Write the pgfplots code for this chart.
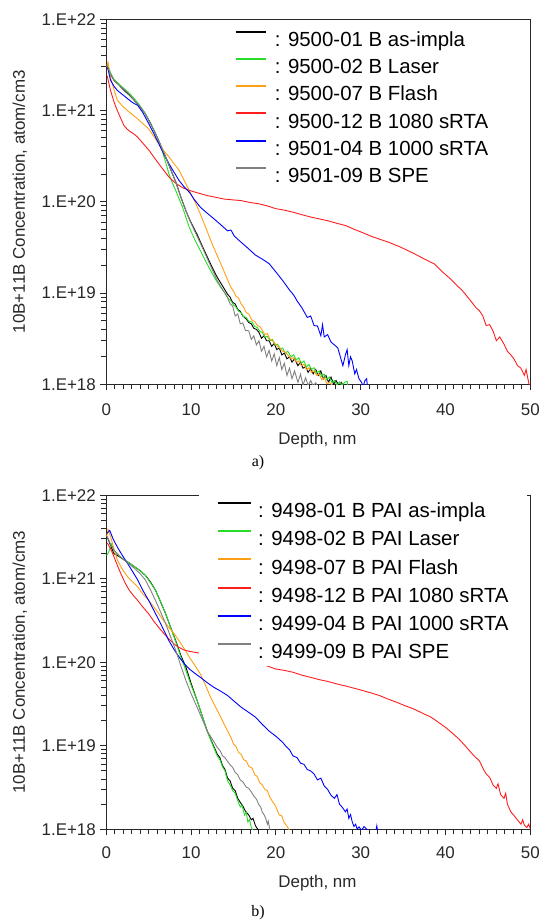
\documentclass[border=0pt]{standalone}
\usepackage{pgfplots}
\pgfplotsset{compat=1.18}
\usepackage{fontspec}
\setmainfont{Liberation Sans}
\newfontfamily\seriffont{Liberation Serif}
\definecolor{cgreen}{RGB}{40,220,40}
\definecolor{corange}{RGB}{255,160,20}
\definecolor{cred}{RGB}{255,30,30}
\definecolor{cblue}{RGB}{0,0,255}
\definecolor{cgray}{RGB}{128,128,128}
\definecolor{axcol}{RGB}{40,40,40}
\pgfplotsset{
  limga/.style={legend image code/.code={\draw[##1, line width=2bp] (0bp,7.5bp) -- (30.4bp,7.5bp);}},
  limgb/.style={legend image code/.code={\draw[##1, line width=2bp] (0bp,7.5bp) -- (33bp,7.5bp);}},
}
\begin{document}
\begin{tikzpicture}
\useasboundingbox (0,0) rectangle (541bp,921bp);
% ---------------- panel a ----------------
\begin{axis}[at={(106.3bp,536.7bp)}, anchor=south west,
  scale only axis, width=424bp, height=365bp,
  ymode=log, xmin=0, xmax=50, ymin=1e18, ymax=1e22,
  xtick={0,10,20,30,40,50}, xticklabels={0,10,20,30,40,50},
  minor x tick num=9,
  ytick={1e18,1e19,1e20,1e21,1e22},
  yticklabels={1.E+18,1.E+19,1.E+20,1.E+21,1.E+22},
  tick align=outside, xtick pos=bottom, ytick pos=left,
  major tick length=6bp, minor tick length=5bp,
  tick style={axcol, line width=1bp},
  axis line style={axcol, line width=1.4bp},
  xticklabel style={font=\fontsize{17}{18}\selectfont, text=axcol, yshift=-10bp},
  yticklabel style={font=\fontsize{17}{18}\selectfont, text=axcol, xshift=-1bp},
  xlabel={Depth, nm},
  ylabel={10B+11B Concentration, atom/cm3},
  xlabel style={font=\fontsize{17}{18}\selectfont, text=axcol, at={(axis description cs:0.498,-0.153)}, anchor=center},
  ylabel style={font=\fontsize{17}{18}\selectfont, text=axcol, at={(axis description cs:-0.204,0.5)}, anchor=center},
  legend cell align=left,
  every axis plot/.append style={line width=0.9bp},
  limga,
  legend style={at={(axis description cs:0.3026,0.9693)}, anchor=north west, draw=none, fill=none, inner sep=0pt,
    font=\fontsize{20.5}{20}\selectfont, row sep=11.5bp,
    nodes={inner sep=0pt, text height=14.5bp, text depth=0bp},
    /tikz/every odd column/.append style={column sep=7.6bp}}]
% black as-implanted
\addplot[black] coordinates {(0.1,3.0e21)(0.5,2.5e21)(0.9,2.15e21)(1.5,1.9e21)(2.1,1.66e21)(2.7,1.48e21)(3.3,1.29e21)(4.0,1.1e21)(4.6,9.2e20)(5.2,7.3e20)(5.8,5.6e20)(6.4,4.2e20)(7.0,3.1e20)(7.6,2.25e20)(8.2,1.64e20)(8.8,1.12e20)(9.4,7.9e19)(10.0,5.9e19)(10.7,4.4e19)(11.3,3.3e19)(11.9,2.5e19)(12.5,1.9e19)(13.1,1.48e19)(13.7,1.2e19)(14.3,9.7e18)(14.6,9.0e18)(14.9,7.9e18)(15.2,7.6e18)(15.5,6.6e18)(15.8,6.3e18)(16.1,5.6e18)(16.5,5.2e18)(16.8,4.75e18)(17.1,4.6e18)(17.4,4.1e18)(17.7,4.0e18)(18.0,3.7e18)(18.3,3.2e18)(18.6,3.4e18)(18.9,3.0e18)(19.2,3.0e18)(19.5,2.6e18)(19.8,2.8e18)(20.1,2.4e18)(20.4,2.5e18)(20.7,2.1e18)(21.0,2.2e18)(21.3,1.9e18)(21.6,2.0e18)(21.9,1.75e18)(22.2,1.9e18)(22.6,1.6e18)(22.9,1.75e18)(23.2,1.5e18)(23.5,1.55e18)(23.8,1.35e18)(24.1,1.5e18)(24.4,1.3e18)(24.7,1.45e18)(25.0,1.25e18)(25.3,1.4e18)(25.6,1.15e18)(25.9,1.25e18)(26.2,1.05e18)(26.5,1.2e18)(26.8,1.0e18)(27.1,1.1e18)(27.4,0.97e18)(27.7,1.05e18)(28.0,0.95e18)};
\addlegendentry{: 9500-01 B as-impla}
% green Laser
\addplot[cgreen] coordinates {(0.1,3.25e21)(0.5,2.6e21)(0.9,2.2e21)(1.5,1.95e21)(2.1,1.74e21)(2.7,1.55e21)(3.3,1.35e21)(4.0,1.12e21)(4.6,9.2e20)(5.2,7.2e20)(5.8,5.6e20)(6.2,4.6e20)(6.6,3.6e20)(7.0,2.7e20)(7.4,2.0e20)(7.8,1.6e20)(8.2,1.32e20)(8.6,1.07e20)(9.0,8.7e19)(9.4,6.7e19)(9.8,5.2e19)(10.4,3.9e19)(11.1,2.9e19)(11.7,2.25e19)(12.3,1.76e19)(12.9,1.4e19)(13.5,1.15e19)(14.1,9.7e18)(14.4,8.6e18)(14.7,8.2e18)(15.0,7.4e18)(15.3,7.0e18)(15.6,6.3e18)(15.9,6.1e18)(16.2,5.5e18)(16.5,5.4e18)(16.8,4.9e18)(17.2,4.8e18)(17.5,4.3e18)(17.8,4.2e18)(18.1,3.8e18)(18.4,3.7e18)(18.7,3.3e18)(19.0,3.35e18)(19.3,3.0e18)(19.6,3.1e18)(19.9,2.7e18)(20.2,2.75e18)(20.5,2.45e18)(20.8,2.5e18)(21.1,2.2e18)(21.4,2.3e18)(21.8,2.0e18)(22.1,2.1e18)(22.4,1.85e18)(22.7,1.95e18)(23.0,1.7e18)(23.3,1.8e18)(23.6,1.55e18)(23.9,1.65e18)(24.2,1.45e18)(24.5,1.52e18)(24.8,1.32e18)(25.1,1.4e18)(25.4,1.22e18)(25.7,1.29e18)(26.0,1.12e18)(26.3,1.2e18)(26.6,1.05e18)(26.9,1.1e18)(27.2,0.98e18)(27.5,1.06e18)(27.8,0.97e18)(28.1,1.05e18)(28.4,1.08e18)(28.5,0.95e18)};
\addlegendentry{: 9500-02 B Laser}
% orange Flash
\addplot[corange] coordinates {(0.05,3.0e21)(0.2,3.4e21)(0.5,2.3e21)(0.9,1.7e21)(1.3,1.3e21)(1.9,1.12e21)(2.5,1.0e21)(3.1,9.0e20)(3.7,8.1e20)(4.3,7.2e20)(5.0,6.3e20)(5.6,5.2e20)(6.2,4.3e20)(6.8,3.6e20)(7.4,3.1e20)(8.0,2.6e20)(8.6,2.2e20)(9.2,1.7e20)(9.8,1.32e20)(10.5,9.8e19)(11.1,7.3e19)(11.7,5.3e19)(12.3,3.8e19)(12.9,2.8e19)(13.5,2.1e19)(14.1,1.55e19)(14.7,1.15e19)(15.0,1.05e19)(15.3,9.2e18)(15.6,8.8e18)(15.9,7.6e18)(16.2,7.0e18)(16.5,6.1e18)(16.8,5.9e18)(17.2,5.0e18)(17.5,4.9e18)(17.8,4.4e18)(18.1,4.3e18)(18.4,3.9e18)(18.7,3.5e18)(19.0,3.6e18)(19.3,3.1e18)(19.6,3.0e18)(19.9,2.8e18)(20.2,2.6e18)(20.5,2.5e18)(20.8,2.3e18)(21.1,2.25e18)(21.4,2.1e18)(21.8,1.9e18)(22.1,1.96e18)(22.4,1.75e18)(22.7,1.8e18)(23.0,1.6e18)(23.3,1.66e18)(23.6,1.45e18)(23.9,1.52e18)(24.2,1.35e18)(24.5,1.41e18)(24.8,1.25e18)(25.1,1.3e18)(25.4,1.12e18)(25.7,1.18e18)(26.0,1.02e18)(26.3,1.05e18)(26.8,0.95e18)};
\addlegendentry{: 9500-07 B Flash}
% red 1080 sRTA
\addplot[cred] coordinates {(0.1,2.4e21)(0.5,1.66e21)(0.9,1.25e21)(1.3,1.0e21)(1.7,8.2e20)(2.1,6.8e20)(2.5,6.2e20)(2.9,5.8e20)(3.3,5.5e20)(3.7,5.1e20)(4.3,4.4e20)(5.0,3.7e20)(5.6,3.1e20)(6.2,2.6e20)(6.8,2.2e20)(7.4,1.86e20)(8.0,1.65e20)(8.6,1.5e20)(9.2,1.4e20)(9.8,1.33e20)(10.8,1.25e20)(11.9,1.17e20)(12.9,1.12e20)(13.9,1.07e20)(14.9,1.05e20)(15.9,1.03e20)(17.0,9.8e19)(18.0,9.5e19)(19.0,9.0e19)(20.0,8.4e19)(21.0,8.1e19)(22.0,7.7e19)(23.1,7.2e19)(24.1,6.8e19)(25.1,6.5e19)(26.1,6.2e19)(27.2,5.8e19)(28.2,5.5e19)(29.2,5.0e19)(30.2,4.6e19)(31.2,4.2e19)(32.2,3.9e19)(33.3,3.6e19)(34.3,3.3e19)(35.3,3.0e19)(36.3,2.7e19)(37.5,2.36e19)(38.7,2.08e19)(39.5,1.75e19)(40.4,1.48e19)(41.2,1.25e19)(42.0,1.06e19)(42.8,8.6e18)(43.6,6.9e18)(44.0,6.4e18)(44.4,5.6e18)(44.8,4.4e18)(45.2,4.5e18)(45.6,3.85e18)(46.0,3.0e18)(46.4,3.3e18)(46.9,2.75e18)(47.3,2.3e18)(47.7,2.1e18)(48.1,1.88e18)(48.5,1.6e18)(48.9,1.5e18)(49.3,1.25e18)(49.5,1.45e18)(49.7,1.17e18)(49.9,0.95e18)};
\addlegendentry{: 9500-12 B 1080 sRTA}
% blue 1000 sRTA
\addplot[cblue] coordinates {(0.1,3.1e21)(0.5,2.15e21)(0.9,1.85e21)(1.3,1.66e21)(1.9,1.5e21)(2.5,1.35e21)(3.1,1.22e21)(3.7,1.14e21)(4.3,9.5e20)(5.0,7.2e20)(5.6,5.6e20)(6.2,4.3e20)(6.8,3.3e20)(7.4,2.6e20)(8.0,2.1e20)(8.6,1.7e20)(9.2,1.45e20)(9.8,1.27e20)(10.4,1.05e20)(11.1,8.7e19)(11.9,7.5e19)(12.7,6.5e19)(13.5,5.6e19)(14.3,4.8e19)(14.7,4.9e19)(15.1,4.2e19)(15.9,3.6e19)(16.7,3.1e19)(17.6,2.6e19)(18.4,2.35e19)(19.2,2.1e19)(20.0,1.7e19)(20.8,1.37e19)(21.6,1.08e19)(22.1,9.5e18)(22.5,8.2e18)(23.1,6.8e18)(23.7,5.4e18)(24.1,5.6e18)(24.5,4.4e18)(24.9,4.35e18)(25.3,3.4e18)(25.5,4.5e18)(25.7,3.3e18)(26.1,3.5e18)(26.5,2.9e18)(26.9,2.7e18)(27.3,2.5e18)(27.6,2.0e18)(27.9,1.6e18)(28.2,2.1e18)(28.4,2.4e18)(28.6,1.6e18)(28.8,2.0e18)(29.0,1.8e18)(29.3,1.3e18)(29.5,1.45e18)(29.8,1.15e18)(30.1,1.05e18)(30.3,0.95e18)(30.5,1.1e18)(30.7,1.15e18)(30.8,0.95e18)};
\addlegendentry{: 9501-04 B 1000 sRTA}
% gray SPE
\addplot[cgray] coordinates {(0.1,3.1e21)(0.5,2.5e21)(0.9,2.15e21)(1.5,1.9e21)(2.1,1.7e21)(2.7,1.5e21)(3.3,1.3e21)(4.0,1.1e21)(4.6,9.2e20)(5.2,7.2e20)(5.8,5.6e20)(6.4,4.2e20)(7.0,3.1e20)(7.6,2.25e20)(8.2,1.64e20)(8.8,1.12e20)(9.4,7.9e19)(10.0,5.8e19)(10.7,4.2e19)(11.3,3.2e19)(11.9,2.4e19)(12.5,1.8e19)(13.1,1.36e19)(13.7,1.1e19)(14.3,8.9e18)(14.6,7.6e18)(14.9,7.2e18)(15.2,5.6e18)(15.5,5.9e18)(15.8,4.6e18)(16.1,4.7e18)(16.4,3.9e18)(16.8,3.85e18)(17.1,3.1e18)(17.4,3.4e18)(17.7,2.7e18)(18.0,3.0e18)(18.3,2.3e18)(18.6,2.6e18)(18.9,2.0e18)(19.2,2.35e18)(19.5,1.8e18)(19.8,2.15e18)(20.1,1.6e18)(20.4,1.96e18)(20.7,1.45e18)(21.0,1.7e18)(21.3,1.25e18)(21.6,1.5e18)(21.9,1.15e18)(22.2,1.4e18)(22.6,1.05e18)(22.9,1.29e18)(23.2,0.98e18)(23.5,1.18e18)(23.8,0.97e18)(24.1,1.1e18)(24.4,0.96e18)(24.7,1.04e18)(24.9,0.95e18)};
\addlegendentry{: 9501-09 B SPE}
\end{axis}
% ---------------- panel b ----------------
\begin{axis}[at={(106.3bp,91.7bp)}, anchor=south west,
  scale only axis, width=424bp, height=334bp,
  ymode=log, xmin=0, xmax=50, ymin=1e18, ymax=1e22,
  xtick={0,10,20,30,40,50}, xticklabels={0,10,20,30,40,50},
  minor x tick num=9,
  ytick={1e18,1e19,1e20,1e21,1e22},
  yticklabels={1.E+18,1.E+19,1.E+20,1.E+21,1.E+22},
  tick align=outside, xtick pos=bottom, ytick pos=left,
  major tick length=6bp, minor tick length=5bp,
  tick style={axcol, line width=1bp},
  axis line style={axcol, line width=1.4bp},
  xticklabel style={font=\fontsize{17}{18}\selectfont, text=axcol, yshift=-8bp},
  yticklabel style={font=\fontsize{17}{18}\selectfont, text=axcol, xshift=-1bp},
  xlabel={Depth, nm},
  ylabel={10B+11B Concentration, atom/cm3},
  xlabel style={font=\fontsize{17}{18}\selectfont, text=axcol, at={(axis description cs:0.498,-0.162)}, anchor=center},
  ylabel style={font=\fontsize{17}{18}\selectfont, text=axcol, at={(axis description cs:-0.204,0.5)}, anchor=center},
  legend cell align=left,
  every axis plot/.append style={line width=0.9bp},
  limgb,
  legend style={at={(axis description cs:0.2172,1.003)}, anchor=north west, draw=none, fill=white,
    inner xsep=18bp, inner ysep=7.5bp,
    font=\fontsize{20.5}{20}\selectfont, row sep=12.5bp,
    nodes={inner sep=0pt, text height=14.5bp, text depth=0bp},
    /tikz/every odd column/.append style={column sep=6.5bp}}]
% black as-implanted
\addplot[black] coordinates {(0.1,3.2e21)(0.5,2.5e21)(0.9,2.0e21)(1.5,1.85e21)(2.1,1.68e21)(2.7,1.55e21)(3.3,1.4e21)(4.0,1.25e21)(4.6,1.1e21)(5.2,9.2e20)(5.8,7.3e20)(6.4,5.3e20)(7.0,3.8e20)(7.6,2.6e20)(8.2,1.8e20)(8.8,1.2e20)(9.4,8.7e19)(10.0,5.6e19)(10.7,3.5e19)(11.3,2.3e19)(11.9,1.5e19)(12.5,1.08e19)(13.1,7.9e18)(13.4,7.2e18)(13.7,5.8e18)(14.0,5.2e18)(14.3,4.1e18)(14.6,3.8e18)(14.9,3.1e18)(15.2,2.9e18)(15.5,2.35e18)(15.8,2.1e18)(16.1,1.9e18)(16.4,1.65e18)(16.8,1.48e18)(17.1,1.3e18)(17.3,1.35e18)(17.6,1.1e18)(17.8,1.02e18)(18.0,0.96e18)};
\addlegendentry{: 9498-01 B PAI as-impla}
% green Laser
\addplot[cgreen] coordinates {(0.05,1.9e21)(0.3,2.1e21)(0.6,2.6e21)(0.9,2.2e21)(1.5,1.9e21)(2.1,1.68e21)(2.7,1.55e21)(3.3,1.4e21)(4.0,1.25e21)(4.6,1.1e21)(5.2,9.0e20)(5.8,7.3e20)(6.4,5.3e20)(7.0,3.8e20)(7.6,2.6e20)(8.2,1.75e20)(8.8,1.15e20)(9.4,7.9e19)(10.0,5.3e19)(10.7,3.5e19)(11.3,2.3e19)(11.9,1.5e19)(12.5,1.05e19)(13.1,7.5e18)(13.4,6.8e18)(13.7,5.6e18)(14.0,5.0e18)(14.3,3.8e18)(14.6,3.4e18)(14.9,2.9e18)(15.2,2.7e18)(15.5,2.2e18)(15.8,1.85e18)(16.0,1.95e18)(16.3,1.48e18)(16.5,1.6e18)(16.7,1.22e18)(16.9,1.3e18)(17.1,1.05e18)(17.3,0.97e18)};
\addlegendentry{: 9498-02 B PAI Laser}
% orange Flash
\addplot[corange] coordinates {(0.05,3.2e21)(0.2,3.9e21)(0.5,3.2e21)(0.9,2.3e21)(1.3,1.68e21)(1.9,1.3e21)(2.5,1.06e21)(3.1,9.2e20)(3.7,8.0e20)(4.3,6.6e20)(5.0,5.5e20)(5.6,4.6e20)(6.2,3.8e20)(6.8,3.1e20)(7.4,2.6e20)(8.0,2.2e20)(8.6,1.8e20)(9.2,1.45e20)(9.8,1.15e20)(10.5,9.0e19)(11.1,7.2e19)(11.7,5.3e19)(12.3,3.8e19)(12.9,2.9e19)(13.5,2.2e19)(14.1,1.65e19)(14.7,1.26e19)(15.0,1.05e19)(15.3,9.8e18)(15.6,8.3e18)(15.9,7.9e18)(16.2,6.8e18)(16.5,6.6e18)(16.8,5.7e18)(17.2,5.4e18)(17.5,4.5e18)(17.8,4.3e18)(18.1,3.6e18)(18.4,3.4e18)(18.7,3.0e18)(19.0,2.9e18)(19.3,2.4e18)(19.6,2.15e18)(19.9,1.95e18)(20.1,1.75e18)(20.4,1.48e18)(20.7,1.45e18)(20.9,1.25e18)(21.2,1.12e18)(21.4,1.05e18)(21.6,0.97e18)};
\addlegendentry{: 9498-07 B PAI Flash}
% red 1080 sRTA
\addplot[cred] coordinates {(0.1,2.7e21)(0.5,2.3e21)(0.9,1.84e21)(1.3,1.45e21)(1.7,1.16e21)(2.2,9.0e20)(2.7,7.3e20)(3.2,6.3e20)(3.7,5.5e20)(4.3,4.6e20)(5.0,3.8e20)(5.6,3.1e20)(6.2,2.6e20)(6.8,2.2e20)(7.4,1.9e20)(8.0,1.65e20)(8.6,1.5e20)(9.2,1.4e20)(9.8,1.35e20)(10.4,1.32e20)(10.9,1.29e20)(12.0,1.2e20)(13.4,1.06e20)(14.6,1.04e20)(15.9,1.02e20)(17.0,9.9e19)(18.0,9.6e19)(19.0,9.0e19)(20.0,8.3e19)(21.0,8.0e19)(22.0,7.6e19)(23.1,7.0e19)(24.1,6.6e19)(25.1,6.2e19)(26.1,5.9e19)(27.2,5.5e19)(28.2,5.2e19)(29.2,4.9e19)(30.2,4.6e19)(31.2,4.3e19)(32.2,4.0e19)(33.3,3.6e19)(34.3,3.3e19)(35.3,3.0e19)(36.3,2.75e19)(37.3,2.45e19)(38.3,2.2e19)(39.2,1.9e19)(40.0,1.66e19)(40.8,1.42e19)(41.6,1.2e19)(42.4,9.8e18)(43.2,7.9e18)(43.6,7.2e18)(44.0,6.6e18)(44.4,5.4e18)(44.8,4.6e18)(45.2,4.2e18)(45.6,3.4e18)(46.0,3.1e18)(46.2,3.5e18)(46.5,2.6e18)(46.9,2.35e18)(47.1,2.7e18)(47.3,2.0e18)(47.7,1.62e18)(48.1,1.45e18)(48.5,1.29e18)(48.9,1.15e18)(49.1,1.3e18)(49.3,1.12e18)(49.6,1.05e18)(49.8,1.15e18)(50.0,1.02e18)};
\addlegendentry{: 9498-12 B PAI 1080 sRTA}
% blue 1000 sRTA
\addplot[cblue] coordinates {(0.1,3.5e21)(0.4,3.8e21)(0.8,3.0e21)(1.3,2.4e21)(1.9,1.9e21)(2.5,1.53e21)(3.1,1.22e21)(3.7,9.7e20)(4.3,7.3e20)(5.0,5.5e20)(5.6,4.2e20)(6.2,3.2e20)(6.8,2.4e20)(7.4,1.8e20)(8.0,1.42e20)(8.6,1.15e20)(9.2,9.6e19)(9.8,8.3e19)(10.5,7.3e19)(11.1,6.6e19)(11.9,5.7e19)(12.7,5.0e19)(13.5,4.5e19)(14.3,4.0e19)(15.1,3.4e19)(15.9,2.9e19)(16.7,2.55e19)(17.6,2.2e19)(18.4,1.8e19)(19.2,1.5e19)(20.0,1.3e19)(20.8,1.1e19)(21.2,9.8e18)(21.6,9.0e18)(22.0,7.6e18)(22.5,7.2e18)(22.9,6.2e18)(23.3,6.0e18)(23.7,5.2e18)(24.1,5.0e18)(24.5,4.6e18)(24.9,3.9e18)(25.3,4.1e18)(25.7,3.3e18)(26.1,3.0e18)(26.5,2.55e18)(26.9,2.35e18)(27.2,2.6e18)(27.5,2.0e18)(27.8,1.85e18)(28.2,1.62e18)(28.4,1.75e18)(28.6,1.35e18)(28.8,1.5e18)(29.0,1.23e18)(29.2,1.08e18)(29.4,1.15e18)(29.6,1.0e18)(29.8,1.07e18)(30.1,0.97e18)(30.4,1.08e18)(30.6,1.03e18)(30.9,0.96e18)(31.8,0.97e18)(31.9,1.1e18)(32.0,0.95e18)};
\addlegendentry{: 9499-04 B PAI 1000 sRTA}
% gray SPE
\addplot[cgray] coordinates {(0.1,3.2e21)(0.5,2.6e21)(0.9,2.2e21)(1.5,1.9e21)(2.1,1.68e21)(2.7,1.5e21)(3.3,1.34e21)(4.0,1.15e21)(4.6,9.7e20)(5.2,7.4e20)(5.8,5.5e20)(6.4,4.0e20)(7.0,2.9e20)(7.6,2.0e20)(8.2,1.38e20)(8.8,9.0e19)(9.4,6.0e19)(10.0,4.2e19)(10.7,2.9e19)(11.3,2.1e19)(11.9,1.5e19)(12.5,1.2e19)(13.1,9.5e18)(13.4,8.8e18)(13.7,7.6e18)(14.0,7.2e18)(14.3,6.5e18)(14.6,5.9e18)(14.9,5.5e18)(15.2,4.8e18)(15.5,4.5e18)(15.8,3.9e18)(16.1,3.7e18)(16.5,3.2e18)(16.8,3.1e18)(17.1,2.8e18)(17.4,2.5e18)(17.7,2.3e18)(18.0,1.96e18)(18.2,1.85e18)(18.4,1.6e18)(18.6,1.5e18)(18.8,1.35e18)(19.0,1.15e18)(19.1,1.25e18)(19.3,0.98e18)};
\addlegendentry{: 9499-09 B PAI SPE}
\end{axis}
\node[font=\seriffont\fontsize{16}{16}\selectfont] at (258bp,458bp) {a)};
\node[font=\seriffont\fontsize{16}{16}\selectfont] at (258bp,8bp) {b)};
\end{tikzpicture}
\end{document}
